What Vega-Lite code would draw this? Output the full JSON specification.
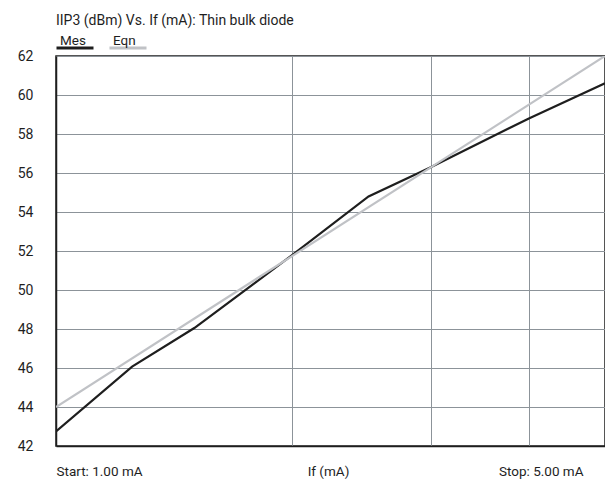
{
  "$schema": "https://vega.github.io/schema/vega-lite/v6.json",
  "width": 549,
  "height": 390,
  "autosize": {"type": "none"},
  "padding": {"left": 56, "top": 56, "right": 0, "bottom": 35},
  "background": "white",
  "config": {
    "font": "Roboto",
    "view": {"stroke": "#1e1e1e", "strokeWidth": 1.5}
  },
  "title": {
    "text": "IIP3 (dBm) Vs. If (mA): Thin bulk diode",
    "anchor": "start",
    "frame": "group",
    "baseline": "alphabetic",
    "offset": -11,
    "fontSize": 14,
    "fontWeight": "normal",
    "color": "#1e1e1e",
    "font": "Roboto"
  },
  "data": {
    "values": [
      {"series": "Mes", "If": 1.0, "IIP3": 42.75},
      {"series": "Mes", "If": 1.25, "IIP3": 46.07},
      {"series": "Mes", "If": 1.5, "IIP3": 48.05},
      {"series": "Mes", "If": 2.0, "IIP3": 51.8},
      {"series": "Mes", "If": 2.5, "IIP3": 54.8},
      {"series": "Mes", "If": 3.0, "IIP3": 56.3},
      {"series": "Mes", "If": 4.0, "IIP3": 58.8},
      {"series": "Mes", "If": 5.0, "IIP3": 60.6},
      {"series": "Eqn", "If": 1.0, "IIP3": 44.0},
      {"series": "Eqn", "If": 5.0, "IIP3": 62.0}
    ]
  },
  "mark": {"type": "line", "strokeWidth": 2.2, "clip": true},
  "encoding": {
    "x": {
      "field": "If",
      "type": "quantitative",
      "scale": {"type": "log", "domain": [1, 5], "nice": false},
      "axis": {
        "values": [1, 2, 3, 4, 5],
        "labelExpr": "datum.value == 1 ? 'Start: 1.00 mA' : (datum.value == 5 ? 'Stop: 5.00 mA' : '')",
        "labelAlign": {"condition": {"test": "datum.value == 1", "value": "left"}, "value": "right"},
        "labelOffset": {"condition": {"test": "datum.value == 5", "value": -22}, "value": 0},
        "labelBaseline": "alphabetic",
        "labelPadding": 29,
        "labelFontSize": 13.5,
        "labelColor": "#1e1e1e",
        "labelOverlap": false,
        "labelBound": false,
        "ticks": false,
        "grid": true,
        "gridColor": "#8c9399",
        "gridWidth": 1,
        "gridOpacity": 1,
        "domain": true,
        "domainColor": "#1e1e1e",
        "domainWidth": 1.5,
        "title": "If (mA)",
        "titleFontSize": 13.5,
        "titleFontWeight": "normal",
        "titleColor": "#1e1e1e",
        "titleBaseline": "alphabetic",
        "titleY": 29,
        "titleX": 272,
        "titleAnchor": "middle"
      }
    },
    "y": {
      "field": "IIP3",
      "type": "quantitative",
      "scale": {"domain": [42, 62], "nice": false, "zero": false},
      "axis": {
        "values": [42, 44, 46, 48, 50, 52, 54, 56, 58, 60, 62],
        "ticks": false,
        "labelPadding": 23,
        "labelFontSize": 14,
        "labelColor": "#1e1e1e",
        "labelBound": false,
        "labelFlush": false,
        "labelOverlap": false,
        "grid": true,
        "gridColor": "#8c9399",
        "gridWidth": 1,
        "gridOpacity": 1,
        "domain": true,
        "domainColor": "#1e1e1e",
        "domainWidth": 1.5,
        "title": null
      }
    },
    "color": {
      "field": "series",
      "type": "nominal",
      "sort": ["Mes", "Eqn"],
      "scale": {"domain": ["Mes", "Eqn"], "range": ["#1e1e1e", "#c0c2c6"]},
      "legend": {
        "orient": "none",
        "legendX": -1,
        "legendY": -28,
        "direction": "horizontal",
        "title": null,
        "symbolType": "stroke",
        "symbolSize": 1369,
        "symbolStrokeWidth": 3,
        "labelOffset": -35,
        "labelBaseline": "bottom",
        "labelFontSize": 13.5,
        "labelColor": "#1e1e1e",
        "columnPadding": 3,
        "padding": 0
      }
    }
  }
}
